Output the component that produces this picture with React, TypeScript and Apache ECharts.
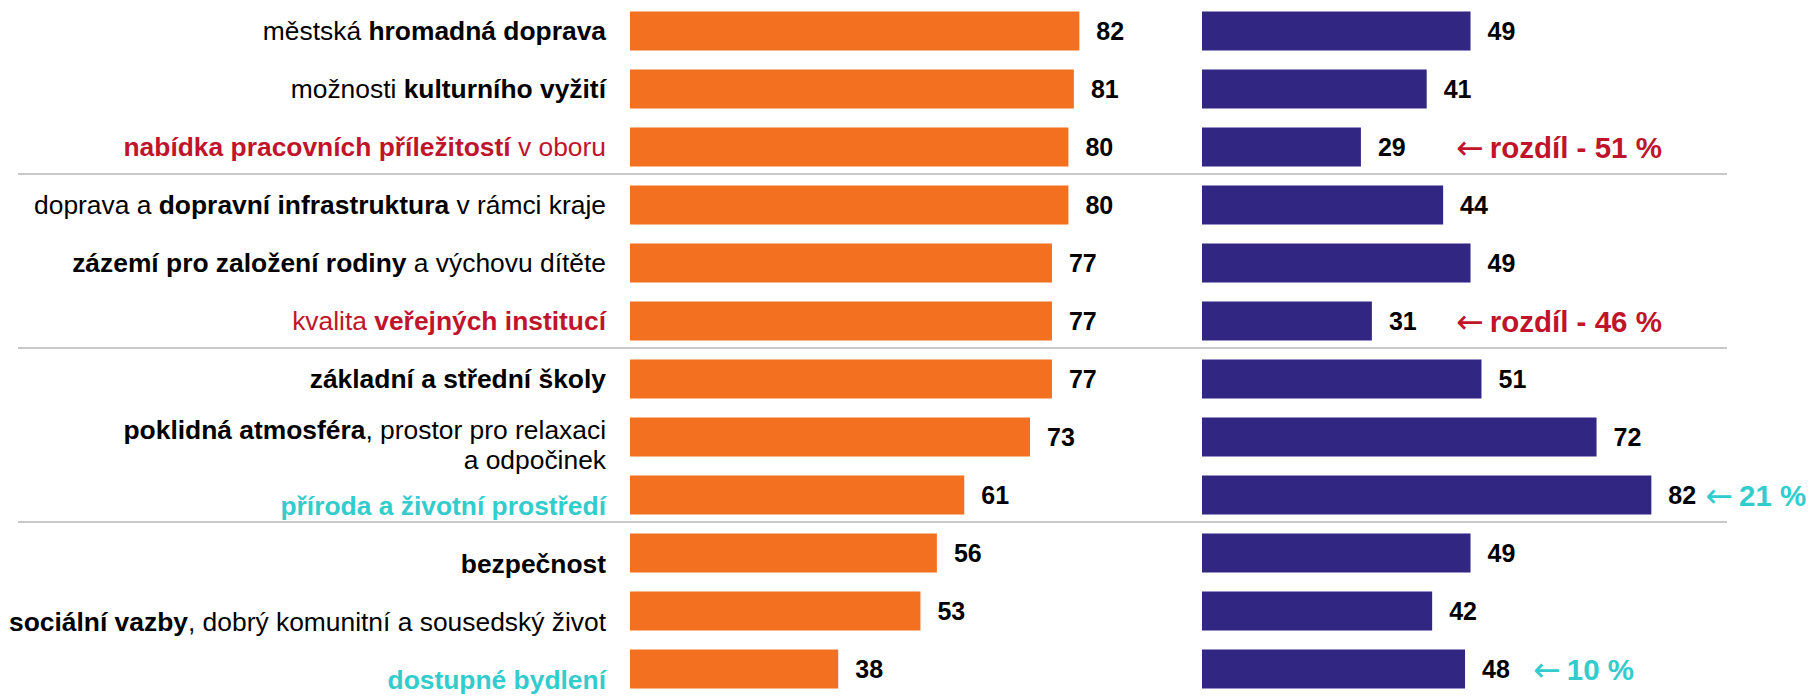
import React, { useEffect, useRef } from "react";
import * as echarts from "echarts";

const categories = [
  "městská hromadná doprava",
  "možnosti kulturního vyžití",
  "nabídka pracovních příležitostí v oboru",
  "doprava a dopravní infrastruktura v rámci kraje",
  "zázemí pro založení rodiny a výchovu dítěte",
  "kvalita veřejných institucí",
  "základní a střední školy",
  "poklidná atmosféra, prostor pro relaxaci a odpočinek",
  "příroda a životní prostředí",
  "bezpečnost",
  "sociální vazby, dobrý komunitní a sousedský život",
  "dostupné bydlení",
];

// rich-text markup of each category label
const labelMarkup = [
  "{n|městská }{b|hromadná doprava}",
  "{n|možnosti }{b|kulturního vyžití}",
  "{rb|nabídka pracovních příležitostí}{rn| v oboru}",
  "{n|doprava a }{b|dopravní infrastruktura}{n| v rámci kraje}",
  "{b|zázemí pro založení rodiny}{n| a výchovu dítěte}",
  "{rn|kvalita }{rb|veřejných institucí}",
  "{b|základní a střední školy}",
  "{b|poklidná atmosféra}{n|, prostor pro relaxaci}\n{n|a odpočinek}",
  "{tb|příroda a životní prostředí}",
  "{b|bezpečnost}",
  "{b|sociální vazby}{n|, dobrý komunitní a sousedský život}",
  "{tb|dostupné bydlení}",
];

const orangeValues = [82, 81, 80, 80, 77, 77, 77, 73, 61, 56, 53, 38];
const blueValues = [49, 41, 29, 44, 49, 31, 51, 72, 82, 49, 42, 48];

const annotationRows = [2, 5, 8, 11];
const annotationTexts = ["rozdíl - 51 %", "rozdíl - 46 %", "21 %", "10 %"];
const annotationKinds = ["red", "red", "teal", "teal"];

const separatorAfterRows = [2, 5, 8];

const FONT = "'Liberation Sans', Arial, 'DejaVu Sans', sans-serif";
const ORANGE = "#F37021";
const BLUE = "#312783";
const RED = "#C0142B";
const TEAL = "#33CCCC";
const FS = 25;
const LFS = 26.4;

export default function App() {
  const ref = useRef<HTMLDivElement>(null);
  useEffect(() => {
    if (!ref.current) return;
    const chart = echarts.init(ref.current, null, { renderer: "svg" });
    const richBase = { fontSize: LFS, fontFamily: FONT, lineHeight: 30 };
    const rich: Record<string, any> = {
      n: { ...richBase, color: "#000" },
      b: { ...richBase, color: "#000", fontWeight: "bold" },
      rn: { ...richBase, color: RED },
      rb: { ...richBase, color: RED, fontWeight: "bold" },
      tb: { ...richBase, color: TEAL, fontWeight: "bold" },
      sp: { fontSize: 1, lineHeight: 16, color: "rgba(0,0,0,0)" },
      sp2: { fontSize: 1, lineHeight: 22, color: "rgba(0,0,0,0)" },
    };
    const labelFor = (i: number) => {
      if (i === 7) return "{sp| }\n" + labelMarkup[i];
      if (i > 7) return "{sp2| }\n" + labelMarkup[i];
      return labelMarkup[i];
    };
    const valueLabel = {
      show: true,
      position: "right",
      distance: 17,
      fontSize: FS,
      fontWeight: "bold",
      color: "#000",
      fontFamily: FONT,
    };
    const option: any = {
      animation: false,
      grid: [
        { left: 630, width: 548, top: 2, height: 696 },
        { left: 1202, width: 548, top: 2, height: 696 },
      ],
      xAxis: [
        { gridIndex: 0, type: "value", min: 0, max: 100, show: false },
        { gridIndex: 1, type: "value", min: 0, max: 100, show: false },
      ],
      yAxis: [
        {
          gridIndex: 0,
          type: "category",
          data: categories,
          inverse: true,
          axisLine: { show: false },
          axisTick: { show: false },
          splitLine: { show: false },
          axisLabel: {
            interval: 0,
            margin: 24,
            align: "right",
            formatter: (_v: string, i: number) => labelFor(i),
            rich,
          },
        },
        {
          gridIndex: 1,
          type: "category",
          data: categories,
          inverse: true,
          axisLine: { show: false },
          axisTick: { show: false },
          splitLine: { show: false },
          axisLabel: { show: false },
        },
      ],
      series: [
        {
          type: "bar",
          xAxisIndex: 0,
          yAxisIndex: 0,
          data: orangeValues,
          barWidth: 39,
          itemStyle: { color: ORANGE },
          label: valueLabel,
        },
        {
          type: "bar",
          xAxisIndex: 1,
          yAxisIndex: 1,
          data: blueValues,
          barWidth: 39,
          itemStyle: { color: BLUE },
          label: valueLabel,
        },
      ],
    };
    chart.setOption(option);

    const rowY = (i: number) =>
      chart.convertToPixel({ yAxisIndex: 1 }, i) as unknown as number;
    const graphics: any[] = [];
    separatorAfterRows.forEach((r) => {
      const y = (rowY(r) + rowY(r + 1)) / 2 - 2;
      graphics.push({
        type: "line",
        shape: { x1: 18, y1: y, x2: 1727, y2: y },
        style: { stroke: "#C8C8C8", lineWidth: 2 },
        silent: true,
      });
    });
    const blueLeft = chart.convertToPixel({ xAxisIndex: 1 }, 0) as unknown as number;
    annotationRows.forEach((r, k) => {
      const color = annotationKinds[k] === "red" ? RED : TEAL;
      let x: number;
      if (annotationKinds[k] === "red") x = blueLeft + 254;
      else {
        const barEnd = chart.convertToPixel({ xAxisIndex: 1 }, blueValues[r]) as unknown as number;
        x = barEnd + 17 + 28 + (r === 8 ? 9 : 23);
      }
      graphics.push({
        type: "text",
        x,
        y: rowY(r),
        style: {
          text: "{a|←}{s| }{t|" + annotationTexts[k] + "}",
          verticalAlign: "middle",
          align: "left",
          fill: color,
          rich: {
            a: { fontSize: 33, fontFamily: "'DejaVu Sans', sans-serif", fill: color, fontWeight: "normal" },
            s: { fontSize: 22, fontFamily: FONT, fill: color },
            t: { fontSize: 29.5, fontFamily: FONT, fill: color, fontWeight: "bold" },
          },
        },
      });
    });
    chart.setOption({ graphic: graphics });

    return () => chart.dispose();
  }, []);
  return (
    <div
      ref={ref}
      style={{ position: "fixed", left: 0, top: 0, width: 1812, height: 698, background: "#fff" }}
    />
  );
}
